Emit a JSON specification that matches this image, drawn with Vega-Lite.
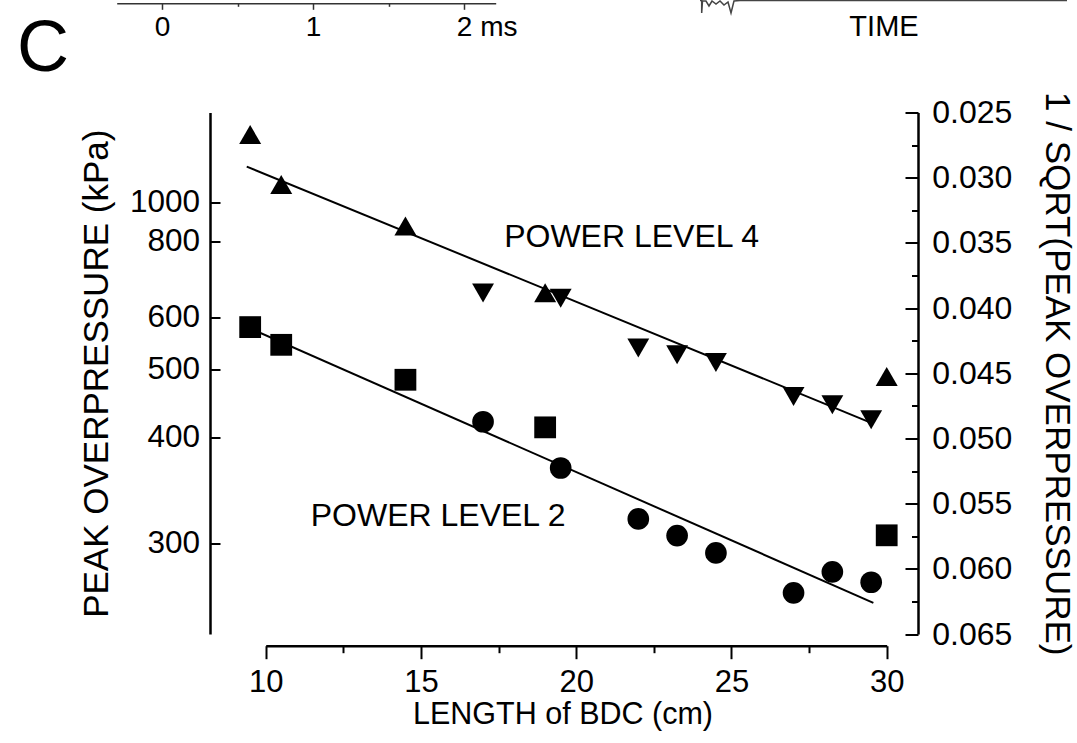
{
  "$schema": "https://vega.github.io/schema/vega-lite/v6.json",
  "autosize": {"type": "none"},
  "padding": {"left": 210, "top": 112.5, "right": 159, "bottom": 109},
  "width": 708,
  "height": 521.5,
  "background": "white",
  "config": {
    "font": "Liberation Sans",
    "view": {"stroke": null},
    "axis": {"grid": false, "domainColor": "black", "tickColor": "black", "labelColor": "black", "titleColor": "black", "titleFontWeight": "normal", "labelFont": "Liberation Sans", "titleFont": "Liberation Sans"},
    "text": {"font": "Liberation Sans"}
  },
  "datasets": {
    "points": [
      {"length": 9.5, "inv_sqrt_p": 0.02669, "series": "PL4 up"},
      {"length": 10.5, "inv_sqrt_p": 0.03052, "series": "PL4 up"},
      {"length": 14.5, "inv_sqrt_p": 0.03371, "series": "PL4 up"},
      {"length": 19.0, "inv_sqrt_p": 0.03883, "series": "PL4 up"},
      {"length": 30.0, "inv_sqrt_p": 0.04525, "series": "PL4 up"},
      {"length": 17.0, "inv_sqrt_p": 0.03885, "series": "PL4 down"},
      {"length": 19.5, "inv_sqrt_p": 0.03924, "series": "PL4 down"},
      {"length": 22.0, "inv_sqrt_p": 0.04307, "series": "PL4 down"},
      {"length": 23.25, "inv_sqrt_p": 0.04358, "series": "PL4 down"},
      {"length": 24.5, "inv_sqrt_p": 0.04417, "series": "PL4 down"},
      {"length": 27.0, "inv_sqrt_p": 0.04678, "series": "PL4 down"},
      {"length": 28.25, "inv_sqrt_p": 0.04741, "series": "PL4 down"},
      {"length": 29.5, "inv_sqrt_p": 0.04856, "series": "PL4 down"},
      {"length": 9.5, "inv_sqrt_p": 0.04146, "series": "PL2 square"},
      {"length": 10.5, "inv_sqrt_p": 0.04282, "series": "PL2 square"},
      {"length": 14.5, "inv_sqrt_p": 0.0455, "series": "PL2 square"},
      {"length": 19.0, "inv_sqrt_p": 0.04915, "series": "PL2 square"},
      {"length": 30.0, "inv_sqrt_p": 0.05743, "series": "PL2 square"},
      {"length": 17.0, "inv_sqrt_p": 0.04872, "series": "PL2 circle"},
      {"length": 19.5, "inv_sqrt_p": 0.05227, "series": "PL2 circle"},
      {"length": 22.0, "inv_sqrt_p": 0.05617, "series": "PL2 circle"},
      {"length": 23.25, "inv_sqrt_p": 0.05745, "series": "PL2 circle"},
      {"length": 24.5, "inv_sqrt_p": 0.05878, "series": "PL2 circle"},
      {"length": 27.0, "inv_sqrt_p": 0.06184, "series": "PL2 circle"},
      {"length": 28.25, "inv_sqrt_p": 0.06023, "series": "PL2 circle"},
      {"length": 29.5, "inv_sqrt_p": 0.06103, "series": "PL2 circle"}
    ],
    "fits": [
      {"level": "POWER LEVEL 4", "length": 9.39, "inv_sqrt_p": 0.02915},
      {"level": "POWER LEVEL 4", "length": 29.52, "inv_sqrt_p": 0.04882},
      {"level": "POWER LEVEL 2", "length": 9.40, "inv_sqrt_p": 0.04146},
      {"level": "POWER LEVEL 2", "length": 29.57, "inv_sqrt_p": 0.06261}
    ],
    "labels": [
      {"text": "POWER LEVEL 4", "length": 17.68, "inv_sqrt_p": 0.03528},
      {"text": "POWER LEVEL 2", "length": 11.45, "inv_sqrt_p": 0.05674}
    ],
    "time": [{"t": 0}, {"t": 1}, {"t": 2}],
    "trace": [
      {"i": 0, "t": 0, "signal": 1},
      {"i": 1, "t": 0.0046, "signal": 1},
      {"i": 2, "t": 0.0046, "signal": 0.038},
      {"i": 3, "t": 0.0068, "signal": 0.962},
      {"i": 4, "t": 0.0163, "signal": 0.962},
      {"i": 5, "t": 0.0245, "signal": 0.577},
      {"i": 6, "t": 0.0327, "signal": 0.962},
      {"i": 7, "t": 0.0436, "signal": 0.731},
      {"i": 8, "t": 0.0545, "signal": 0.962},
      {"i": 9, "t": 0.0654, "signal": 0.654},
      {"i": 10, "t": 0.0763, "signal": 0.885},
      {"i": 11, "t": 0.0845, "signal": 0.038},
      {"i": 12, "t": 0.0926, "signal": 0.962},
      {"i": 13, "t": 0.109, "signal": 1},
      {"i": 14, "t": 1, "signal": 1}
    ]
  },
  "layer": [
    {
      "layer": [
        {
          "data": {"name": "points"},
          "mark": {"type": "point", "filled": true, "opacity": 1, "color": "black", "strokeWidth": 0},
          "encoding": {
            "x": {"field": "length", "type": "quantitative",
              "scale": {"domain": [10, 30], "range": [55.7, 676.7], "nice": false, "zero": false},
              "axis": {"orient": "bottom", "offset": 11.7, "values": [10, 15, 20, 25, 30], "format": "d", "tickSize": 13, "tickWidth": 2, "domainWidth": 2.5, "labelPadding": 9, "labelFontSize": 31, "labelFlush": false, "labelOverlap": false, "title": "LENGTH of BDC (cm)", "titleFontSize": 30.5, "titlePadding": 2, "titleX": 352.5, "titleAlign": "center"}},
            "y": {"field": "inv_sqrt_p", "type": "quantitative",
              "scale": {"domain": [0.025, 0.065], "range": [0, 521.5], "nice": false, "zero": false},
              "axis": {"orient": "left", "values": [0.03191, 0.0349, 0.04072, 0.04473, 0.04994, 0.05807], "labelExpr": "format(round(1/(datum.value*datum.value)/100)*100, 'd')", "tickSize": -10, "tickWidth": 2, "domainWidth": 2.5, "labelPadding": 20.5, "labelFontSize": 31.5, "labelOverlap": false, "labelFlush": false, "title": "PEAK OVERPRESSURE (kPa)", "titleFontSize": 35, "titlePadding": 15}},
            "shape": {"field": "series", "type": "nominal", "scale": {"domain": ["PL4 up", "PL4 down", "PL2 square", "PL2 circle"], "range": ["triangle-up", "triangle-down", "square", "circle"]}, "legend": null},
            "size": {"field": "series", "type": "nominal", "scale": {"domain": ["PL4 up", "PL4 down", "PL2 square", "PL2 circle"], "range": [484, 470, 300, 372]}, "legend": null}
          }
        },
        {
          "data": {"name": "fits"},
          "mark": {"type": "line", "color": "black", "strokeWidth": 2},
          "encoding": {
            "x": {"field": "length", "type": "quantitative",
              "scale": {"domain": [10, 30], "range": [55.7, 676.7], "nice": false, "zero": false},
              "axis": {"orient": "bottom", "offset": 11.7, "values": [12.5, 17.5, 22.5, 27.5], "tickSize": 7, "tickWidth": 2, "labels": false, "domain": false, "title": null}},
            "y": {"field": "inv_sqrt_p", "type": "quantitative",
              "scale": {"domain": [0.025, 0.065], "range": [0, 521.5], "nice": false, "zero": false},
              "axis": {"orient": "right", "values": [0.025, 0.03, 0.035, 0.04, 0.045, 0.05, 0.055, 0.06, 0.065], "format": ".3f", "tickSize": -13, "tickWidth": 2, "domainWidth": 2.5, "labelPadding": 26.7, "labelFontSize": 32, "labelOverlap": false, "labelFlush": false, "title": "1 / SQRT(PEAK OVERPRESSURE)", "titleFontSize": 35, "titlePadding": 27}},
            "detail": {"field": "level", "type": "nominal"}
          }
        },
        {
          "data": {"name": "labels"},
          "mark": {"type": "text", "align": "left", "baseline": "alphabetic", "fontSize": 32, "color": "black", "font": "Liberation Sans"},
          "encoding": {
            "x": {"field": "length", "type": "quantitative",
              "scale": {"domain": [10, 30], "range": [55.7, 676.7], "nice": false, "zero": false}, "axis": null},
            "y": {"field": "inv_sqrt_p", "type": "quantitative",
              "scale": {"domain": [0.025, 0.065], "range": [0, 521.5], "nice": false, "zero": false},
              "axis": {"orient": "right", "values": [0.0275, 0.0325, 0.0375, 0.0425, 0.0475, 0.0525, 0.0575, 0.0625], "tickSize": -6.5, "tickWidth": 2, "labels": false, "domain": false, "title": null}},
            "text": {"field": "text", "type": "nominal"}
          }
        }
      ],
      "resolve": {"axis": {"x": "independent", "y": "independent"}}
    },
    {
      "data": {"name": "time"},
      "mark": {"type": "point", "opacity": 0},
      "encoding": {
        "x": {"field": "t", "type": "quantitative",
          "scale": {"domain": [-0.302, 2.208], "range": [-93.3, 285.7], "nice": false, "zero": false},
          "axis": {"orient": "bottom", "offset": -630.7, "values": [0, 0.5, 1, 1.5, 2], "tickSize": {"condition": {"test": "datum.value % 1 === 0", "value": 6}, "value": 3}, "tickWidth": 1.5, "domainWidth": 1.5, "domainColor": "#333", "tickColor": "#333", "labelExpr": "datum.value === 2 ? '2 ms' : (datum.value % 1 === 0 ? format(datum.value, 'd') : '')", "labelAlign": "left", "labelOffset": -8, "labelPadding": 4, "labelFontSize": 28, "labelFlush": false, "labelOverlap": false, "title": null}}
      }
    },
    {
      "data": {"name": "trace"},
      "mark": {"type": "line", "color": "#444", "strokeWidth": 1.5},
      "encoding": {
        "x": {"field": "t", "type": "quantitative",
          "scale": {"domain": [0, 1], "range": [490, 857], "nice": false, "zero": false},
          "axis": {"orient": "bottom", "offset": -634, "domain": false, "ticks": false, "labels": false, "title": "TIME", "titleFontSize": 29, "titlePadding": 12.7}},
        "y": {"field": "signal", "type": "quantitative",
          "scale": {"domain": [0, 1], "range": [-99, -112], "nice": false, "zero": false},
          "axis": {"orient": "left", "domain": false, "ticks": false, "labels": false, "title": "C", "titleFontSize": 72, "titleAngle": 0, "titleAlign": "left", "titleBaseline": "alphabetic", "titleX": -193.6, "titleY": -42.5}},
        "order": {"field": "i", "type": "quantitative"}
      }
    }
  ],
  "resolve": {"scale": {"x": "independent", "y": "independent"}, "axis": {"x": "independent", "y": "independent"}}
}
